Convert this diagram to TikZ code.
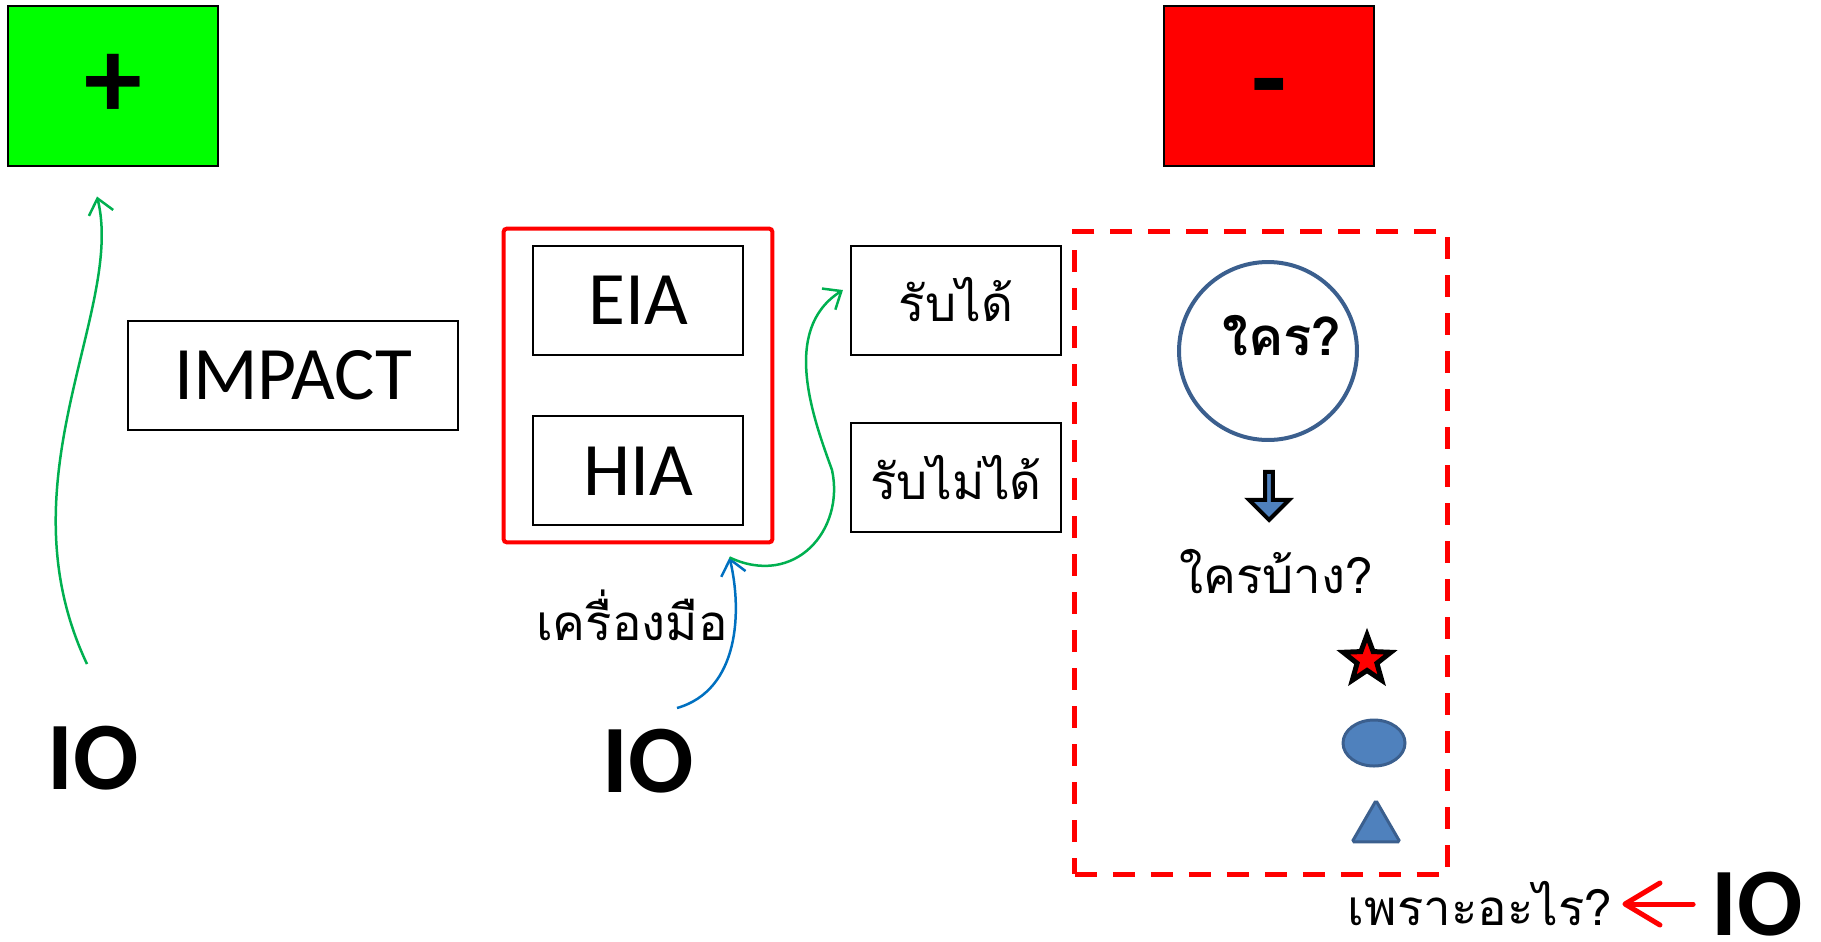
\documentclass[tikz,border=0pt]{standalone}
\usepackage{fontspec}
\setmainfont{Carlito}
\newfontfamily\thaifont[Script=Thai]{Loma}
\usetikzlibrary{shapes,arrows.meta,positioning,fit}

\definecolor{plusgreen}{HTML}{00FF00}
\definecolor{linkgreen}{HTML}{00B050}
\definecolor{linkblue}{HTML}{0070C0}
\definecolor{shapeblue}{HTML}{4F81BD}
\definecolor{shapeedge}{HTML}{3B5F8E}

\begin{document}
\begin{tikzpicture}[x=0.02cm, y=-0.02cm,
    box/.style={draw, line width=0.04cm, minimum width=4.2cm, minimum height=2.18cm, font=\fontsize{43}{50}\selectfont},
    thaibox/.style={box, font=\thaifont\fontsize{28}{34}\selectfont},
    sign/.style={draw, line width=0.04cm, minimum width=4.2cm, minimum height=3.22cm, font=\fontsize{66}{70}\selectfont\bfseries},
    io/.style={inner sep=0, font=\fontsize{55}{60}\selectfont\bfseries},
    thai/.style={inner sep=0, font=\thaifont\fontsize{28}{34}\selectfont},
    link/.style={line width=0.05cm, -{Straight Barb[length=0.3cm, width=0.5cm]}},
    warn/.style={draw=red, line width=0.1cm, line cap=round, -{Straight Barb[length=0.7cm, width=0.84cm, round]}}]
    \useasboundingbox (0,0) rectangle (1821,941);

    \node[sign, fill=plusgreen] (plus) at (113,86) {+};
    \node[sign, fill=red] (minus) at (1269,86) {\smash{\raisebox{-0.62cm}{-}}};
    \node[box, minimum width=6.62cm] (impact) at (293,375) {IMPACT};
    \node[box] (eia) at (638,300) {EIA};
    \node[box, below=1.2cm of eia] (hia) {HIA};
    \node[thaibox, right=2.12cm of eia] (ok) {รับได้};
    \node[thaibox, below=1.34cm of ok] (notok) {รับไม่ได้};
    \node[draw=red, line width=0.08cm, rounded corners=2pt, fit=(eia)(hia), inner xsep=0.57cm, inner ysep=0.32cm] (tools) {};
    \node[thai, below=0.9cm of tools, xshift=-0.12cm] (toolname) {เครื่องมือ};

    \node[draw=red, line width=0.1cm, dash pattern=on 0.44cm off 0.32cm, minimum width=7.45cm, minimum height=12.85cm] (group) at (1261,553) {};
    \node[circle, draw=shapeedge, line width=0.08cm, minimum size=3.56cm, inner sep=0, font=\thaifont\bfseries\fontsize{30}{36}\selectfont] (who) at (1268,351) {\raisebox{0.64cm}{\hspace{0.56cm}ใคร?}};
    \node[single arrow, shape border rotate=270, draw=black, fill=shapeblue, line width=0.08cm, minimum height=0.96cm, minimum width=0.8cm, single arrow head extend=0.17cm, inner sep=0] (down) at (1269,494) {};
    \node[thai] (whoall) at (1276,572) {ใครบ้าง?};
    \node[star, star points=5, star point ratio=2.4, fill=red, draw=black, line width=0.1cm, minimum size=1.0cm, inner sep=0] (star) at (1367,660) {};
    \node[ellipse, fill=shapeblue, draw=shapeedge, line width=0.06cm, minimum width=1.24cm, minimum height=0.92cm, inner sep=0] (oval) at (1374,743) {};
    \node[regular polygon, regular polygon sides=3, fill=shapeblue, draw=shapeedge, line width=0.06cm, rounded corners=1pt, minimum size=1.1cm, inner sep=0] (tri) at (1376,828) {};
    \node[thai] (why) at (1480,904) {เพราะอะไร?};

    \node[io] (ioleft) at (93,758) {IO};
    \node[io] (iomid) at (648,761) {IO};
    \node[io] (ioright) at (1757,904) {IO};

    \draw[link, draw=linkgreen] ([shift={(-6,-94)}]ioleft.center) .. controls (0,480) and (125,310) .. ([shift={(-16,29)}]plus.south);
    \draw[link, draw=linkblue] ([shift={(29,-53)}]iomid.center) .. controls (740,690) and (742,610) .. ([shift={(-45,13)}]tools.south east) coordinate (hit);
    \draw[link, draw=linkgreen] (hit) .. controls (795,588) and (845,530) .. (832,470) .. controls (814,420) and (780,330) .. ([shift={(-7,-10)}]ok.west);
    \draw[warn] ([xshift=-0.36cm]ioright.west) -- ([xshift=0.2cm]why.east);
\end{tikzpicture}
\end{document}
